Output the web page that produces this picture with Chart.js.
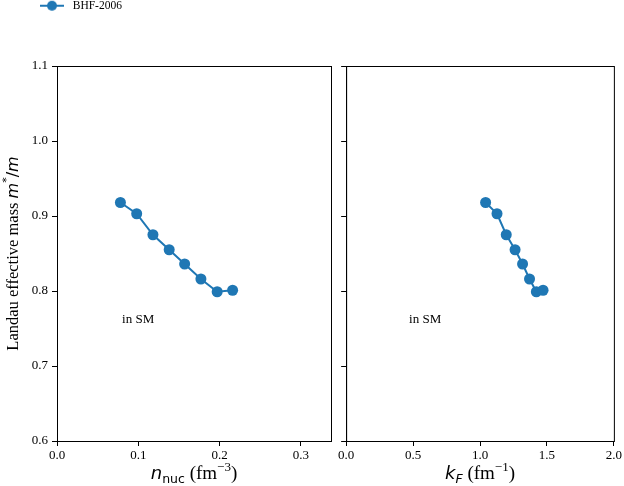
<!DOCTYPE html>
<html>
<head>
<meta charset="utf-8">
<script src="https://cdn.jsdelivr.net/npm/chart.js@4"></script>
<style>
  body { margin: 0; background: #fff; }
  canvas { position: absolute; top: 0; }
  #left { left: 0; }
  #right { left: 336px; }
</style>
</head>
<body>
<canvas id="left" width="336" height="486"></canvas>
<canvas id="right" width="288" height="486"></canvas>
<script>
'use strict';

// values
let nucDensity = [0.078, 0.098, 0.118, 0.138, 0.157, 0.177, 0.197, 0.216];
let fermiMomentum = [1.042, 1.127, 1.196, 1.262, 1.318, 1.370, 1.421, 1.471];
let effMass = [0.918, 0.903, 0.875, 0.855, 0.836, 0.816, 0.799, 0.801];
let densityTicks = [0.0, 0.1, 0.2, 0.3];
let momentumTicks = [0.0, 0.5, 1.0, 1.5, 2.0];
let massTicks = [0.6, 0.7, 0.8, 0.9, 1.0, 1.1];
let seriesName = 'BHF-2006';
let noteText = 'in SM';

const blue = '#1f77b4';
const serif = "'Liberation Serif', 'DejaVu Serif', serif";
const mathSans = "'DejaVu Sans', sans-serif";

function toPoints(xs, ys) {
  let pts = [];
  for (let i = 0; i < xs.length; i++) {
    pts.push({ x: xs[i], y: ys[i] });
  }
  return pts;
}

// little line + dot icon for the legend
let legendIcon = document.createElement('canvas');
legendIcon.width = 30;
legendIcon.height = 12;
let ic = legendIcon.getContext('2d');
ic.strokeStyle = blue;
ic.lineWidth = 2;
ic.beginPath();
ic.moveTo(3, 6);
ic.lineTo(27, 6);
ic.stroke();
ic.fillStyle = blue;
ic.beginPath();
ic.arc(15, 6, 5, 0, Math.PI * 2);
ic.fill();

function drawPieces(ctx, pieces, cx, cy) {
  let total = 0;
  for (let p of pieces) {
    ctx.font = p.font;
    p.w = ctx.measureText(p.text).width;
    total += p.w;
  }
  let x = cx - total / 2;
  ctx.textAlign = 'left';
  ctx.textBaseline = 'alphabetic';
  ctx.fillStyle = '#000';
  for (let p of pieces) {
    ctx.font = p.font;
    ctx.fillText(p.text, x, cy + (p.dy || 0));
    x += p.w;
  }
}

// box round the plot, the "in SM" note and the rich axis titles
const decor = {
  id: 'decor',
  afterLayout(chart) {
    // legend sits a bit in from the left edge, like the original
    if (chart.legend && chart.options.plugins.legend.display) {
      chart.legend.left += 37;
    }
  },
  afterDraw(chart, args, opts) {
    let ctx = chart.ctx;
    let a = chart.chartArea;
    ctx.save();
    ctx.strokeStyle = '#000';
    ctx.lineWidth = 1;
    ctx.strokeRect(a.left + 0.5, a.top + 0.5, a.right - a.left, a.bottom - a.top);

    ctx.font = '13px ' + serif;
    ctx.fillStyle = '#000';
    ctx.textAlign = 'left';
    ctx.textBaseline = 'middle';
    ctx.fillText(noteText, chart.scales.x.getPixelForValue(opts.noteX), chart.scales.y.getPixelForValue(opts.noteY));

    drawPieces(ctx, opts.xTitle, (a.left + a.right) / 2, 479);

    if (opts.yTitle) {
      ctx.translate(18, (a.top + a.bottom) / 2);
      ctx.rotate(-Math.PI / 2);
      drawPieces(ctx, opts.yTitle, 0, 0);
    }
    ctx.restore();
  }
};

function makeConfig(xs, xTicks, xMax, side) {
  let isLeft = side === 'left';
  return {
    type: 'line',
    data: {
      datasets: [{
        label: seriesName,
        data: toPoints(xs, effMass),
        borderColor: blue,
        backgroundColor: blue,
        borderWidth: 2,
        pointRadius: 5.5,
        pointHoverRadius: 5.5,
        pointBackgroundColor: blue,
        pointBorderWidth: 0,
        tension: 0
      }]
    },
    options: {
      responsive: false,
      animation: false,
      layout: {
        autoPadding: false,
        padding: isLeft ? { left: 0, right: 5, top: 0, bottom: 0 } : { left: 0, right: 7, top: 66, bottom: 0 }
      },
      plugins: {
        legend: {
          display: isLeft,
          position: 'top',
          align: 'start',
          weight: 1000,
          labels: {
            usePointStyle: true,
            pointStyle: legendIcon,
            pointStyleWidth: 30,
            padding: 0,
            color: '#000',
            font: { family: serif, size: 11.5 }
          }
        },
        title: {
          display: isLeft,
          text: ' ',
          weight: 100,
          font: { size: 10 },
          padding: { top: 16, bottom: 16.5 }
        },
        tooltip: { enabled: false },
        decor: {
          noteX: isLeft ? 0.08 : 0.47,
          noteY: 0.762,
          xTitle: isLeft ? [
            { text: 'n', font: 'oblique 18px ' + mathSans },
            { text: 'nuc', font: '12.5px ' + mathSans, dy: 4 },
            { text: ' (fm', font: '19px ' + serif },
            { text: '\u22123', font: '13px ' + serif, dy: -8 },
            { text: ')', font: '19px ' + serif }
          ] : [
            { text: 'k', font: 'oblique 18px ' + mathSans },
            { text: 'F', font: 'oblique 12.5px ' + mathSans, dy: 4 },
            { text: ' (fm', font: '19px ' + serif },
            { text: '\u22121', font: '13px ' + serif, dy: -8 },
            { text: ')', font: '19px ' + serif }
          ],
          yTitle: isLeft ? [
            { text: 'Landau effective mass ', font: '16.5px ' + serif },
            { text: 'm', font: 'oblique 16px ' + mathSans },
            { text: '*', font: '11px ' + mathSans, dy: -8 },
            { text: '/', font: '16px ' + mathSans },
            { text: 'm', font: 'oblique 16px ' + mathSans }
          ] : null
        }
      },
      scales: {
        x: {
          type: 'linear',
          min: 0,
          max: xMax,
          afterBuildTicks: (scale) => { scale.ticks = xTicks.map(v => ({ value: v })); },
          afterFit: (scale) => { scale.height = 45; },
          grid: { drawOnChartArea: false, drawTicks: true, tickLength: 5, color: '#000' },
          border: { display: true, color: '#000', width: 1 },
          ticks: {
            color: '#000',
            padding: 2,
            maxRotation: 0,
            font: { family: serif, size: 13 },
            callback: (v) => v.toFixed(1)
          }
        },
        y: {
          type: 'linear',
          min: 0.6,
          max: 1.1,
          afterBuildTicks: (scale) => { scale.ticks = massTicks.map(v => ({ value: v })); },
          afterFit: (scale) => { scale.width = isLeft ? 57 : 9; },
          grid: { drawOnChartArea: false, drawTicks: true, tickLength: 5, color: '#000' },
          border: { display: true, color: '#000', width: 1 },
          ticks: {
            display: isLeft,
            color: '#000',
            padding: 4,
            font: { family: serif, size: 13 },
            callback: (v) => v.toFixed(1)
          }
        }
      }
    },
    plugins: [decor]
  };
}

let leftChart = new Chart(document.getElementById('left'), makeConfig(nucDensity, densityTicks, 0.337, 'left'));
let rightChart = new Chart(document.getElementById('right'), makeConfig(fermiMomentum, momentumTicks, 2.0, 'right'));
</script>
</body>
</html>
